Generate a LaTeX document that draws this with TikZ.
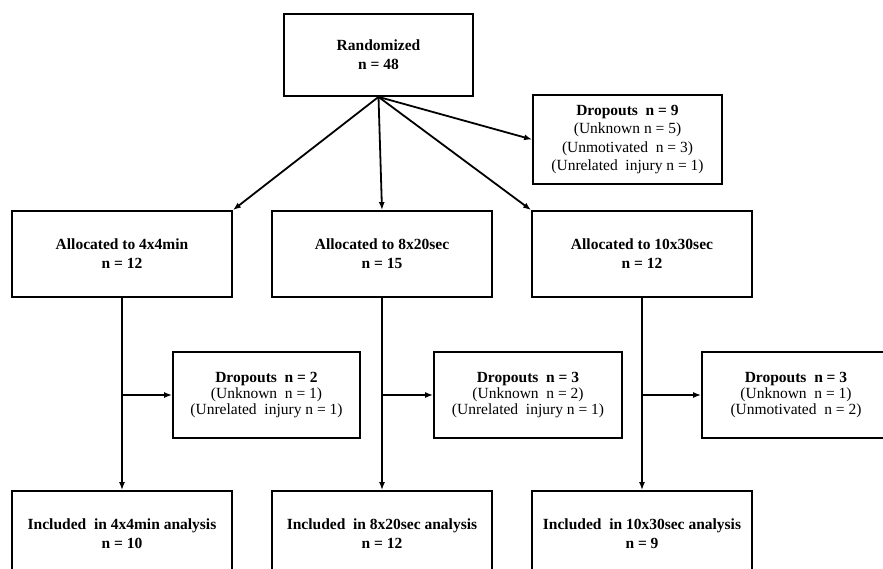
\documentclass[tikz,border=0pt]{standalone}
\usepackage{fontspec}
\setmainfont{Liberation Serif}
\usetikzlibrary{arrows.meta}
\begin{document}
\begin{tikzpicture}[x=1pt,y=-1pt,
  box/.style={draw, line width=1.8pt, rectangle, align=center, inner sep=0pt,
     font=\fontsize{15.5}{19}\selectfont},
  dbox/.style={box, font=\fontsize{15.5}{18.5}\selectfont},
  dboxs/.style={box, font=\fontsize{15.5}{16}\selectfont},
  arr/.style={line width=1.8pt, -{Latex[length=8pt,width=6pt]}}]
\useasboundingbox (0,0) rectangle (883,568);
\clip (0,0) rectangle (883,568);
\fill[white] (0,0) rectangle (883,568);
\node[box, minimum width=189pt, minimum height=82pt] (rand) at (378.5,55) {\textbf{Randomized}\\\textbf{n = 48}};
\node[dbox, minimum width=189pt, minimum height=89pt] (drop0) at (627.5,139.5)
  {\textbf{Dropouts\ \ n = 9}\\(Unknown n = 5)\\(Unmotivated\ \ n = 3)\\(Unrelated\ \ injury n = 1)};
\node[box, minimum width=220pt, minimum height=86pt] (a1) at (122,254) {\textbf{Allocated to 4x4min}\\\textbf{n = 12}};
\node[box, minimum width=220pt, minimum height=86pt] (a2) at (382,254) {\textbf{Allocated to 8x20sec}\\\textbf{n = 15}};
\node[box, minimum width=220pt, minimum height=86pt] (a3) at (642,254) {\textbf{Allocated to 10x30sec}\\\textbf{n = 12}};
\node[dboxs, minimum width=187pt, minimum height=86pt] (d1) at (266.5,395)
  {\textbf{Dropouts\ \ n = 2}\\(Unknown\ \ n = 1)\\(Unrelated\ \ injury n = 1)};
\node[dboxs, minimum width=188pt, minimum height=86pt] (d2) at (528,395)
  {\textbf{Dropouts\ \ n = 3}\\(Unknown\ \ n = 2)\\(Unrelated\ \ injury n = 1)};
\node[dboxs, minimum width=188pt, minimum height=86pt] (d3) at (796,395)
  {\textbf{Dropouts\ \ n = 3}\\(Unknown\ \ n = 1)\\(Unmotivated\ \ n = 2)};
\node[box, minimum width=220pt, minimum height=86pt] (i1) at (122,534) {\textbf{Included\ \ in 4x4min analysis}\\\textbf{n = 10}};
\node[box, minimum width=220pt, minimum height=86pt] (i2) at (382,534) {\textbf{Included\ \ in 8x20sec analysis}\\\textbf{n = 12}};
\node[box, minimum width=220pt, minimum height=86pt] (i3) at (642,534) {\textbf{Included\ \ in 10x30sec analysis}\\\textbf{n = 9}};
\draw[arr] (rand.south) -- (a1.north east);
\draw[arr] (rand.south) -- (a2.north);
\draw[arr] (rand.south) -- (a3.north west);
\draw[arr] (rand.south) -- (drop0.west);
\draw[arr] (a1.south) -- (i1.north);
\draw[arr] (a2.south) -- (i2.north);
\draw[arr] (a3.south) -- (i3.north);
\draw[arr] (a1.south |- d1.west) -- (d1.west);
\draw[arr] (a2.south |- d2.west) -- (d2.west);
\draw[arr] (a3.south |- d3.west) -- (d3.west);
\end{tikzpicture}
\end{document}
